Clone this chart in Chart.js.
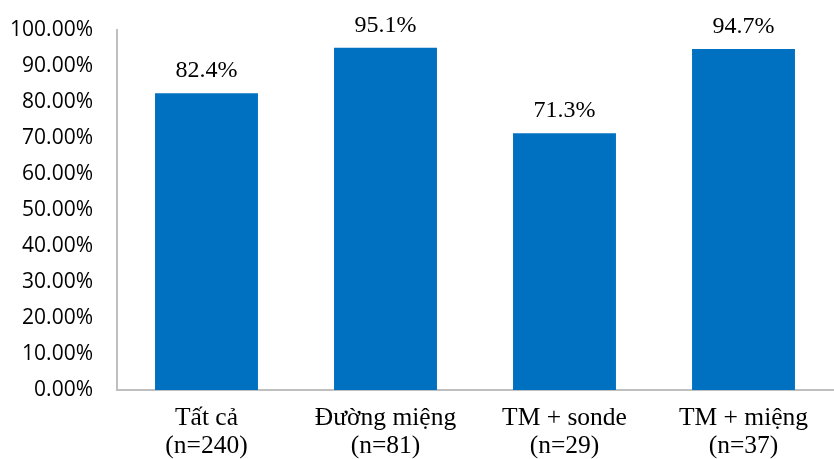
<!DOCTYPE html>
<html>
<head>
<meta charset="utf-8">
<script src="https://cdn.jsdelivr.net/npm/chart.js@4"></script>
<style>
  html, body { margin: 0; padding: 0; background: #fff; }
  #wrap { width: 834px; height: 459px; }
</style>
</head>
<body>
<div id="wrap"><canvas id="chart" width="834" height="459"></canvas></div>
<script>
const categories = [
    ['Tất cả', '(n=240)'],
    ['Đường miệng', '(n=81)'],
    ['TM + sonde', '(n=29)'],
    ['TM + miệng', '(n=37)']
];
const values = [82.4, 95.1, 71.3, 94.7];
const yTicks = [0, 10, 20, 30, 40, 50, 60, 70, 80, 90, 100];

const barLabels = {
    id: 'barLabels',
    afterDatasetsDraw(chart) {
        const ctx = chart.ctx;
        const meta = chart.getDatasetMeta(0);
        ctx.save();
        ctx.font = '24px "Liberation Serif", "Times New Roman", serif';
        ctx.fillStyle = '#000';
        ctx.textAlign = 'center';
        ctx.textBaseline = 'alphabetic';
        meta.data.forEach((bar, i) => {
            ctx.fillText(values[i].toFixed(1) + '%', bar.x, bar.y - 16);
        });
        ctx.restore();
    }
};

new Chart(document.getElementById('chart').getContext('2d'), {
    type: 'bar',
    data: {
        labels: categories,
        datasets: [{
            data: values,
            backgroundColor: '#0070c0',
            borderWidth: 0,
            categoryPercentage: 1,
            barPercentage: 0.575
        }]
    },
    options: {
        responsive: false,
        animation: false,
        layout: { padding: { top: 30, right: 1, left: 0, bottom: 0 } },
        plugins: {
            legend: { display: false },
            tooltip: { enabled: false }
        },
        scales: {
            x: {
                grid: { display: false },
                border: { color: '#bfbfbf', width: 2 },
                ticks: {
                    color: '#000',
                    padding: 6,
                    maxRotation: 0,
                    autoSkip: false,
                    font: { family: '"Liberation Serif", "Times New Roman", serif', size: 25.5, lineHeight: 1.1 }
                },
                afterFit(scale) { scale.height = 69; }
            },
            y: {
                min: 0,
                max: 100,
                grid: { display: false, drawTicks: false },
                border: { color: '#bfbfbf', width: 2 },
                afterBuildTicks(scale) { scale.ticks = yTicks.map(v => ({ value: v })); },
                ticks: {
                    color: '#000',
                    padding: 24,
                    font: { family: '"Open Sans", sans-serif', size: 21 },
                    callback: v => v.toFixed(2) + '%'
                },
                afterFit(scale) {
                    scale.width = 117;
                    // labels may overhang the plot top/bottom, don't let them shrink it
                    scale.paddingTop = 0;
                    scale.paddingBottom = 0;
                }
            }
        }
    },
    plugins: [barLabels]
});
</script>
</body>
</html>
